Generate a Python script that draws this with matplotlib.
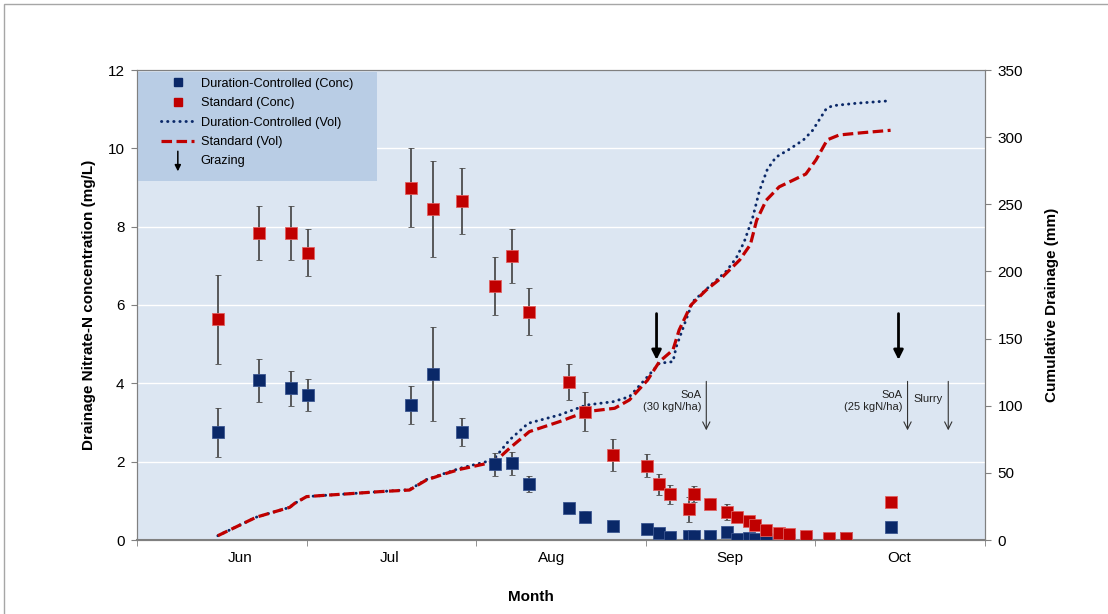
import numpy as np
import matplotlib
matplotlib.use("Agg")
import matplotlib.pyplot as plt
from matplotlib.lines import Line2D
from matplotlib.patches import Rectangle, FancyArrowPatch
from matplotlib.legend_handler import HandlerBase

plt.rcParams['font.family'] = ['Liberation Sans', 'DejaVu Sans']

# sampling days (days from start of axis)
days = [14.3, 21.6, 27.3, 30.3, 48.4, 52.3, 57.5, 63.3, 66.3, 69.3,
        76.5, 79.3, 84.2, 90.3, 92.3, 94.3, 97.6, 98.5, 101.4, 104.3,
        106.2, 108.3, 109.4, 111.3, 113.5, 115.3, 118.3, 122.4, 125.4, 133.4]

# nitrate-N concentration (mg/L)
dc_conc = [2.75, 4.08, 3.87, 3.70, 3.44, 4.24, 2.75, 1.93, 1.96, 1.43,
           0.81, 0.60, 0.37, 0.28, 0.17, 0.07, 0.10, 0.10, 0.10, 0.21,
           0.03, 0.06, 0.03, 0.03, 0.00, 0.00, 0.04, 0.00, 0.04, 0.34]
dc_err = [0.62, 0.55, 0.44, 0.40, 0.49, 1.20, 0.36, 0.29, 0.29, 0.21,
          0.13, 0.13, 0.03, 0.03, 0.03, 0.02, 0.03, 0.03, 0.03, 0.08,
          0.02, 0.02, 0.02, 0.02, 0.02, 0.02, 0.02, 0.02, 0.02, 0.0]
std_conc = [5.63, 7.84, 7.84, 7.33, 9.00, 8.45, 8.65, 6.48, 7.25, 5.83,
            4.04, 3.28, 2.17, 1.90, 1.42, 1.17, 0.78, 1.17, 0.92, 0.72,
            0.58, 0.49, 0.38, 0.26, 0.17, 0.15, 0.10, 0.06, 0.06, 0.98]
std_err = [1.13, 0.70, 0.70, 0.60, 1.00, 1.23, 0.84, 0.74, 0.68, 0.60,
           0.46, 0.49, 0.41, 0.29, 0.27, 0.24, 0.33, 0.20, 0.14, 0.21,
           0.05, 0.05, 0.05, 0.04, 0.03, 0.03, 0.03, 0.02, 0.02, 0.0]

# cumulative drainage (mm)
dc_vol_days = [14.3, 21.1, 27.0, 27.9, 30.0, 32.3, 37.0, 42.9, 48.2, 51.2,
               54.7, 57.1, 63.0, 65.9, 69.2, 74.7, 79.5, 84.2, 87.1, 90.3,
               92.4, 94.8, 95.4, 97.1, 98.3, 101.2, 104.2, 106.0, 107.4, 108.9,
               110.1, 111.5, 113.0, 115.4, 117.9, 119.5, 121.9, 123.0, 127.2, 132.6]
dc_vol = [3.2, 17, 24.3, 27.3, 32.3, 33, 34.3, 36, 37.5, 45,
          50, 53.4, 59.6, 74.5, 86.9, 93.1, 100.5, 103, 106.7, 121.6,
          131.6, 132.8, 144, 163.8, 177.5, 188.6, 200, 210, 222, 240,
          260, 276, 285, 291, 298, 305, 321, 323.4, 325.2, 326.9]
std_vol_days = [14.3, 21.1, 27.0, 27.9, 30.0, 32.3, 37.0, 42.9, 48.2, 51.2,
                54.7, 57.1, 63.3, 65.9, 69.4, 74.7, 79.5, 84.5, 87.1, 90.3,
                92.4, 94.8, 95.9, 98.0, 100.7, 103.6, 106.6, 108.5, 109.6, 111.3,
                113.6, 118.3, 120.1, 122.1, 124.2, 128.3, 133.3]
std_vol = [3.2, 17, 24.3, 27.3, 32.3, 33, 34.3, 36, 37.2, 44.7,
           49.6, 52.6, 58.3, 68.3, 80.7, 88.1, 95.6, 98.1, 104.3, 119,
           132.8, 141.5, 156.4, 175, 186.2, 196, 208.5, 220, 238, 253,
           263, 272.5, 283, 298, 301.6, 303.3, 305.1]

# events
grazing_days = [91.9, 134.7]
event_days = [100.7, 136.3, 143.5]
event_labels = ['SoA\n(30 kgN/ha)', 'SoA\n(25 kgN/ha)', 'Slurry']

months = ['Jun', 'Jul', 'Aug', 'Sep', 'Oct']
month_pos = [18.2, 44.7, 73.3, 104.8, 134.8]

BLUE = '#0a2868'
RED = '#c00000'
BG = '#dce6f2'


class ArrowHandler(HandlerBase):
    def create_artists(self, legend, orig_handle, xdescent, ydescent,
                       width, height, fontsize, trans):
        x = width / 2 - xdescent
        a = FancyArrowPatch((x, height + 5), (x, -7), arrowstyle='-|>',
                            mutation_scale=9, lw=1.1, color='black',
                            transform=trans)
        return [a]


fig = plt.figure(figsize=(11.08, 6.14), dpi=100)
ax = fig.add_axes([137 / 1108, 1 - 540 / 614, 848 / 1108, 470 / 614])
ax2 = ax.twinx()
ax.set_facecolor(BG)

fig.patches.append(Rectangle((4 / 1108, -0.05), 1.1, 1.05 - 4 / 614,
                             transform=fig.transFigure, fill=False,
                             edgecolor='#a6a6a6', lw=1))

ax.set_xlim(0, 150)
ax.set_ylim(0, 12)
ax2.set_ylim(0, 350)

for y in range(2, 12, 2):
    ax.axhline(y, color='white', lw=1, zorder=0.5)

# drainage lines drawn on the lower axes using the right-axis scale
l1, = ax.plot(dc_vol_days, dc_vol, transform=ax2.transData, color=BLUE,
              lw=2.1, dashes=(0.1, 2.0), dash_capstyle='round', zorder=2,
              label='Duration-Controlled (Vol)')
l2, = ax.plot(std_vol_days, std_vol, transform=ax2.transData, color=RED,
              lw=2.3, dashes=(3.3, 1.4), zorder=2.1, label='Standard (Vol)')

ekw = dict(fmt='s', ms=8.5, ecolor='#4d4d4d', elinewidth=1.3, capsize=2.2,
           capthick=1.1, zorder=3)
ax.errorbar(days, dc_conc, yerr=dc_err, color=BLUE, mec='#3a5590', mew=0.6, **ekw)
ax.errorbar(days, std_conc, yerr=std_err, color=RED, mec='#e06060', mew=0.6, **ekw)

for d in grazing_days:
    ax.annotate('', xy=(d, 4.6), xytext=(d, 5.78),
                arrowprops=dict(arrowstyle='-|>', lw=2, color='black',
                                mutation_scale=14, shrinkA=0, shrinkB=0))
for d, lab in zip(event_days, event_labels):
    ax.annotate('', xy=(d, 2.8), xytext=(d, 4.05),
                arrowprops=dict(arrowstyle='->', lw=0.8, color='#333333',
                                mutation_scale=13, shrinkA=0, shrinkB=0))
    ax.text(d - 0.9, 3.55 if '\n' in lab else 3.6, lab, ha='right', va='center',
            multialignment='right', fontsize=8, color='#222222')

# axes styling
for sp in ['left', 'right', 'top', 'bottom']:
    ax.spines[sp].set_color('#808080')
    ax2.spines[sp].set_color('#808080')
ax.spines['bottom'].set_linewidth(1.5)
ax.set_yticks(range(0, 13, 2))
ax2.set_yticks(range(0, 351, 50))
ax.tick_params(axis='y', labelsize=11, length=4, color='#808080', pad=5)
ax2.tick_params(axis='y', labelsize=11, length=4, color='#808080', pad=5)
ax.set_xticks(month_pos)
ax.set_xticklabels(months)
ax.set_xticks(np.arange(0, 151, 30), minor=True)
ax.tick_params(axis='x', which='major', length=0, labelsize=11, pad=8)
ax.tick_params(axis='x', which='minor', length=4, color='#808080')

ax.set_ylabel('Drainage Nitrate-N concentration (mg/L)', fontsize=11,
              fontweight='bold', labelpad=8)
ax2.set_ylabel('Cumulative Drainage (mm)', fontsize=11, fontweight='bold',
               labelpad=16)
ax.set_xlabel('Month', fontsize=11, fontweight='bold')
ax.xaxis.set_label_coords((531 - 137) / 848, -(590 - 540) / 470)

# legend
ax.add_patch(Rectangle((0.001, (540 - 181) / 470), (376 - 137) / 848,
                       (181 - 72) / 470, transform=ax.transAxes,
                       facecolor='#b9cde5', edgecolor='none', zorder=4))
h1 = Line2D([], [], ls='none', marker='s', ms=6, color=BLUE)
h2 = Line2D([], [], ls='none', marker='s', ms=6, color=RED)
h5 = object()
leg = ax.legend([h1, h2, l1, l2, h5],
                ['Duration-Controlled (Conc)', 'Standard (Conc)',
                 'Duration-Controlled (Vol)', 'Standard (Vol)', 'Grazing'],
                handler_map={h5: ArrowHandler()}, loc='upper left',
                bbox_to_anchor=(0.015, 1.008), frameon=False, fontsize=9.2,
                handlelength=2.6, handletextpad=0.5, labelspacing=0.58)
leg.set_zorder(5)

fig.savefig('out.png', dpi=100)
